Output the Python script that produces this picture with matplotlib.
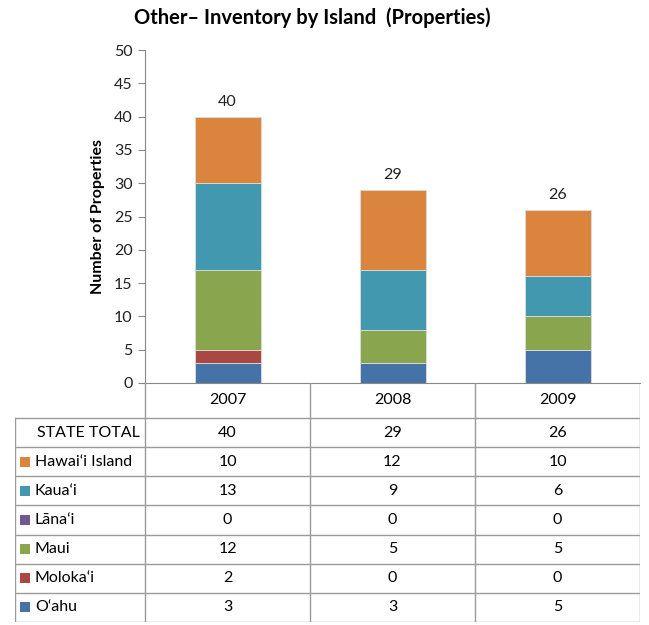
import numpy as np
import matplotlib
matplotlib.use('Agg')
import matplotlib.pyplot as plt
from matplotlib.patches import Rectangle

plt.rcParams['font.family'] = ['Lato', 'DejaVu Sans']

# inventory counts per island
years = ['2007', '2008', '2009']
islands = ['O‘ahu', 'Moloka‘i', 'Maui', 'Lāna‘i', 'Kaua‘i', 'Hawai‘i Island']
oahu = [3, 3, 5]
molokai = [2, 0, 0]
maui = [12, 5, 5]
lanai = [0, 0, 0]
kauai = [13, 9, 6]
hawaii = [10, 12, 10]
state_total = [40, 29, 26]

series = [oahu, molokai, maui, lanai, kauai, hawaii]
colors = ['#4572A7', '#AA4643', '#89A54E', '#71588F', '#4198AF', '#DB843D']

W, H = 649, 625
fig = plt.figure(figsize=(W / 100, H / 100), dpi=100)

# chart area in pixel coords
x0, x1 = 145, 640
y_top, y_base = 50, 383
ax = fig.add_axes([x0 / W, 1 - y_base / H, (x1 - x0) / W, (y_base - y_top) / H])

x = np.arange(len(years))
bottom = np.zeros(len(years))
for vals, c in zip(series, colors):
    ax.bar(x, vals, 0.4, bottom=bottom, color=c, edgecolor='#dddddd', linewidth=0.6)
    bottom += np.array(vals)

for xi, tot in zip(x, state_total):
    ax.text(xi, tot + 1.2, str(tot), ha='center', va='bottom', fontsize=11.5, color='#222222')

ax.set_xlim(-0.5, len(years) - 0.5)
ax.set_ylim(0, 50)
ax.set_yticks(np.arange(0, 51, 5))
ax.set_xticks([])
ax.tick_params(axis='y', direction='out', length=5, color='#888888', labelsize=11.5,
               labelcolor='#222222', pad=4)
for s in ['top', 'right']:
    ax.spines[s].set_visible(False)
ax.spines['left'].set_color('#888888')
ax.spines['bottom'].set_color('#888888')
ax.set_ylabel('Number of Properties', fontsize=11.5, fontweight='bold', labelpad=6)

fig.text(312 / W, 1 - 18 / H, 'Other– Inventory by Island  (Properties)', ha='center', va='center',
         fontsize=14.5, fontweight='bold')

# data table underneath
tx0, tx1 = 15, 640
ty0, ty1 = 383, 622
tax = fig.add_axes([tx0 / W, 1 - ty1 / H, (tx1 - tx0) / W, (ty1 - ty0) / H])
tax.set_xlim(tx0, tx1)
tax.set_ylim(ty1, ty0)
tax.axis('off')

col_w = (x1 - x0) / len(years)
col_edges = [x0 + i * col_w for i in range(len(years) + 1)]
head_bot = 418
row_h = (ty1 - head_bot) / 7
row_edges = [head_bot + i * row_h for i in range(8)]
lc = '#9a9a9a'

# header row (years)
for xe in col_edges:
    tax.plot([xe, xe], [ty0, ty1], color=lc, lw=1)
for i, yr in enumerate(years):
    tax.text(col_edges[i] + col_w / 2, (ty0 + head_bot) / 2, yr, ha='center', va='center', fontsize=11.5)

# body rows
tax.plot([tx0, tx0], [head_bot, ty1], color=lc, lw=1)
for ye in row_edges:
    tax.plot([tx0, tx1], [ye, ye], color=lc, lw=1)

row_labels = ['STATE TOTAL'] + islands[::-1]
row_vals = [state_total] + series[::-1]
row_cols = [None] + colors[::-1]
for r, (lab, vals, c) in enumerate(zip(row_labels, row_vals, row_cols)):
    yc = row_edges[r] + row_h / 2
    if c is not None:
        tax.add_patch(Rectangle((20, yc - 5), 10, 10, facecolor=c, edgecolor='none'))
    tax.text(35 if c is not None else 37, yc, lab, ha='left', va='center', fontsize=11.5)
    for i, v in enumerate(vals):
        tax.text(col_edges[i] + col_w / 2, yc, str(v), ha='center', va='center', fontsize=11.5)

fig.savefig('out.png', dpi=100)
